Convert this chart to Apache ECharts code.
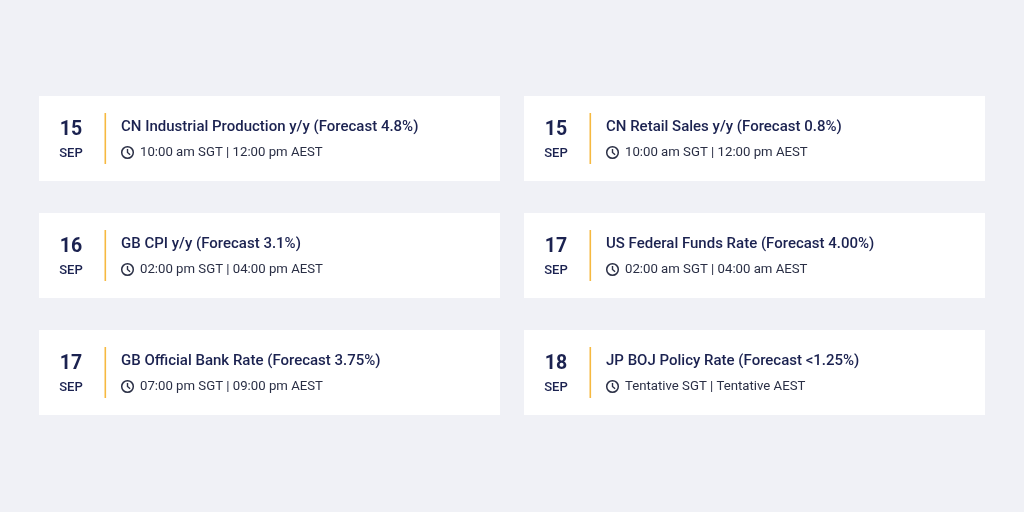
<!DOCTYPE html>
<html>
<head>
<meta charset="UTF-8">
<title>Events</title>
<script src="https://cdn.jsdelivr.net/npm/echarts@6/dist/echarts.min.js"></script>
<style>
  html, body { margin: 0; padding: 0; background: #f0f1f6; }
  #main { width: 1024px; height: 512px; }
</style>
</head>
<body>
<div id="main"></div>
<script>
// event list (column 0 = left, column 1 = right)
var days = ['15', '15', '16', '17', '17', '18'];
var months = ['SEP', 'SEP', 'SEP', 'SEP', 'SEP', 'SEP'];
var titles = [
  'CN Industrial Production y/y (Forecast 4.8%)',
  'CN Retail Sales y/y (Forecast 0.8%)',
  'GB CPI y/y (Forecast 3.1%)',
  'US Federal Funds Rate (Forecast 4.00%)',
  'GB Official Bank Rate (Forecast 3.75%)',
  'JP BOJ Policy Rate (Forecast <1.25%)'
];
var times = [
  '10:00 am SGT | 12:00 pm AEST',
  '10:00 am SGT | 12:00 pm AEST',
  '02:00 pm SGT | 04:00 pm AEST',
  '02:00 am SGT | 04:00 am AEST',
  '07:00 pm SGT | 09:00 pm AEST',
  'Tentative SGT | Tentative AEST'
];
var cols = [0, 1, 0, 1, 0, 1];
var rows = [0, 0, 1, 1, 2, 2];

var navy = '#1b2250';
var font = 'Roboto';

var data = [];
for (var i = 0; i < days.length; i++) {
  data.push([cols[i], rows[i], i]);
}

function renderCard(params, api) {
  var idx = api.value(2);
  var p = api.coord([api.value(0), api.value(1)]);
  var cell = api.size([1, 1]);
  var w = cell[0] - 24, h = cell[1] - 32;
  var x = p[0], y = p[1];
  var cx = x + 88.5, cy = y + 56.5;
  return {
    type: 'group',
    children: [
      { type: 'rect', shape: { x: x, y: y, width: w, height: h }, style: { fill: '#ffffff' } },
      { type: 'rect', shape: { x: x + 65.5, y: y + 17, width: 1.6, height: 51 }, style: { fill: '#f6b940' } },
      { type: 'text', style: { x: x + 32, y: y + 34, text: days[idx], fill: navy, font: 'bold 19.5px ' + font, align: 'center', verticalAlign: 'middle' } },
      { type: 'text', style: { x: x + 32, y: y + 58, text: months[idx], fill: navy, font: '500 13px ' + font, align: 'center', verticalAlign: 'middle' } },
      { type: 'text', style: { x: x + 82, y: y + 31.5, text: titles[idx], fill: navy, font: '500 15px ' + font, align: 'left', verticalAlign: 'middle' } },
      { type: 'circle', shape: { cx: cx, cy: cy, r: 5.8 }, style: { fill: 'none', stroke: '#2a2f45', lineWidth: 1.5 } },
      { type: 'polyline', shape: { points: [[cx, cy - 3.4], [cx, cy], [cx + 2.6, cy + 2.2]] }, style: { fill: 'none', stroke: '#2a2f45', lineWidth: 1.4 } },
      { type: 'text', style: { x: x + 101, y: y + 56.5, text: times[idx], fill: '#2a2f45', font: '13.2px ' + font, align: 'left', verticalAlign: 'middle' } }
    ]
  };
}

var chart = echarts.init(document.getElementById('main'));
chart.setOption({
  backgroundColor: '#f0f1f6',
  animation: false,
  grid: { left: 39, right: 15, top: 96, bottom: 65 },
  xAxis: { type: 'value', min: 0, max: 2, show: false },
  yAxis: { type: 'value', min: 0, max: 3, inverse: true, show: false },
  series: [{
    type: 'custom',
    renderItem: renderCard,
    data: data,
    clip: false
  }]
});
</script>
</body>
</html>
